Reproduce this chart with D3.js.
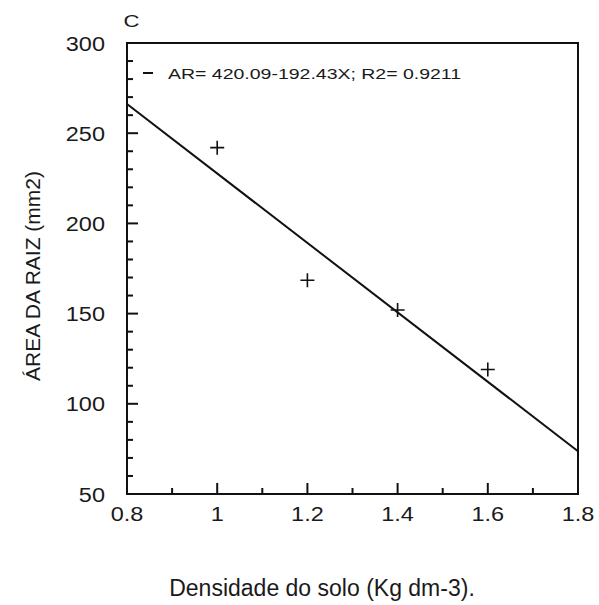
<!DOCTYPE html>
<html>
<head>
<meta charset="utf-8">
<script src="https://cdn.jsdelivr.net/npm/d3@7.9.0/dist/d3.min.js"></script>
<style>
  body { margin: 0; background: #fff; }
  text { font-family: "Liberation Sans", Arial, sans-serif; fill: #1a1a1a; }
</style>
</head>
<body>
<svg id="chart" width="599" height="605"></svg>
<script>
// data
const density = [1.0, 1.2, 1.4, 1.6];
const rootArea = [242, 168.5, 152, 119];
const fitA = 420.09, fitB = -192.43;
const xTicks = [0.8, 1, 1.2, 1.4, 1.6, 1.8];
const yTicks = [50, 100, 150, 200, 250, 300];

const margin = { top: 43, right: 21, bottom: 111, left: 127 };
const width = 599 - margin.left - margin.right;
const height = 605 - margin.top - margin.bottom;

const svg = d3.select("#chart");
const g = svg.append("g").attr("transform", `translate(${margin.left},${margin.top})`);

const x = d3.scaleLinear().domain([0.8, 1.8]).range([0, width]);
const y = d3.scaleLinear().domain([50, 300]).range([height, 0]);

// the original lettering is a bit wide, so stretch text horizontally
const wide = (sel, px, py, sx) => sel.attr("transform", `translate(${px},${py}) scale(${sx},1)`);

// ---------- frame & ticks ----------
g.append("rect")
  .attr("width", width).attr("height", height)
  .attr("fill", "none").attr("stroke", "#111").attr("stroke-width", 2);

// x ticks (inside, major 0.2, minor 0.1)
const xMinor = d3.range(0.9, 1.8, 0.2);
g.selectAll(".xmaj").data(xTicks.slice(1, -1)).join("line")
  .attr("x1", d => x(d)).attr("x2", d => x(d))
  .attr("y1", height).attr("y2", height - 11)
  .attr("stroke", "#111").attr("stroke-width", 2);
g.selectAll(".xmin").data(xMinor).join("line")
  .attr("x1", d => x(d)).attr("x2", d => x(d))
  .attr("y1", height).attr("y2", height - 6)
  .attr("stroke", "#111").attr("stroke-width", 2);

// y ticks (inside, major 50, minor 10)
const yMinor = d3.range(60, 300, 10).filter(v => v % 50 !== 0);
g.selectAll(".ymaj").data(yTicks.slice(1, -1)).join("line")
  .attr("x1", 0).attr("x2", 11)
  .attr("y1", d => y(d)).attr("y2", d => y(d))
  .attr("stroke", "#111").attr("stroke-width", 2);
g.selectAll(".ymin").data(yMinor).join("line")
  .attr("x1", 0).attr("x2", 6)
  .attr("y1", d => y(d)).attr("y2", d => y(d))
  .attr("stroke", "#111").attr("stroke-width", 2);

// tick labels
g.selectAll(".xl").data(xTicks).join("text")
  .each(function (d) { wide(d3.select(this), x(d), height + 27, 1.12); })
  .attr("text-anchor", "middle").attr("font-size", 21)
  .text(d => d3.format("~g")(d));
g.selectAll(".yl").data(yTicks).join("text")
  .each(function (d) { wide(d3.select(this), -22, y(d), 1.12); })
  .attr("dy", "0.36em")
  .attr("text-anchor", "end").attr("font-size", 21)
  .text(d => d);

// ---------- regression line & points ----------
const fit = d3.line()
  .x(d => x(d))
  .y(d => y(fitA + fitB * d));
g.append("path")
  .datum([0.8, 1.8])
  .attr("d", fit)
  .attr("fill", "none").attr("stroke", "#111").attr("stroke-width", 2);

const pts = density.map((d, i) => ({ x: d, y: rootArea[i] }));
g.selectAll(".pt").data(pts).join("path")
  .attr("transform", d => `translate(${x(d.x)},${y(d.y)})`)
  .attr("d", "M-7,0H7M0,-7V7")
  .attr("stroke", "#111").attr("stroke-width", 1.6).attr("fill", "none");

// ---------- legend ----------
g.append("line")
  .attr("x1", 16).attr("x2", 26).attr("y1", 30).attr("y2", 30)
  .attr("stroke", "#111").attr("stroke-width", 2);
wide(g.append("text"), 41, 36, 1.3)
  .attr("font-size", 15)
  .text("AR= 420.09-192.43X; R2= 0.9211");

// ---------- titles ----------
wide(svg.append("text"), 131.5, 27, 1.3)
  .attr("text-anchor", "middle").attr("font-size", 17)
  .text("C");

svg.append("text")
  .attr("x", 322).attr("y", 596)
  .attr("text-anchor", "middle").attr("font-size", 23)
  .text("Densidade do solo (Kg dm-3).");

svg.append("text")
  .attr("transform", `translate(40,276) rotate(-90)`)
  .attr("text-anchor", "middle").attr("font-size", 21)
  .text("ÁREA DA RAIZ (mm2)");
</script>
</body>
</html>
